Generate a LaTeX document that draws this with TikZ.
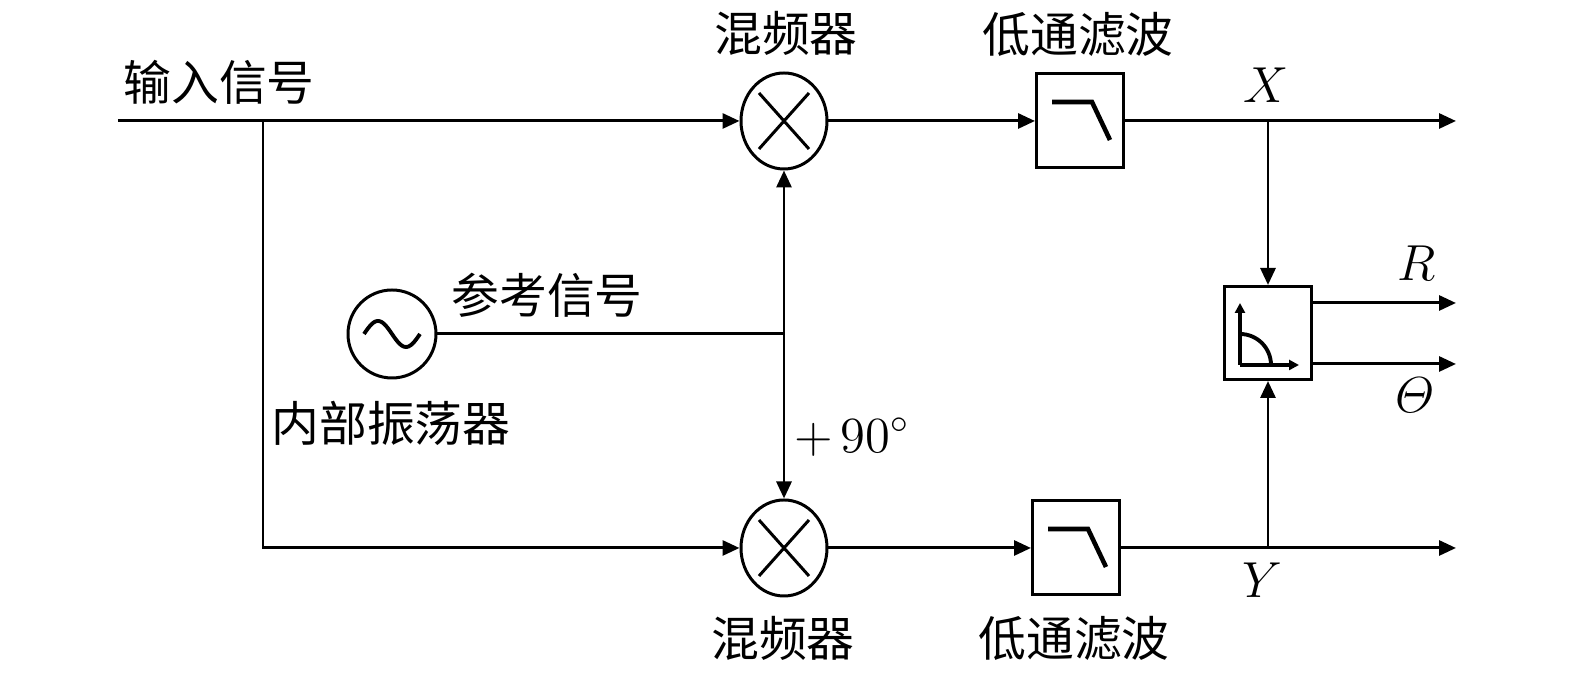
\documentclass[tikz,border=0pt]{standalone}
\usepackage{amsmath}
\usepackage{fontspec}
\newfontfamily\cjk{Noto Sans CJK SC}
\usetikzlibrary{arrows.meta,shapes.geometric}

\begin{document}
\begin{tikzpicture}[line width=0.85pt, >={Triangle[length=0.17cm,width=0.15cm]},
    font=\fontsize{13.6}{16}\selectfont,
    mixer/.style={draw, ellipse, minimum width=0.86cm, minimum height=0.96cm, inner sep=0pt},
    lpfbox/.style={draw, rectangle, minimum width=0.87cm, minimum height=0.94cm, inner sep=0pt},
    cjktext/.style={inner sep=0pt, font=\fontsize{13.6}{16}\selectfont\cjk}]
    \useasboundingbox (0,0) rectangle (15.75,6.79);
    % blocks
    \node[mixer] (mixA) at (7.84,5.58) {};
    \node[mixer] (mixB) at (7.84,1.31) {};
    \node[lpfbox] (lpfA) at (10.80,5.58) {};
    \node[lpfbox] (lpfB) at (10.76,1.31) {};
    \node[lpfbox, minimum height=0.93cm] (polar) at (12.68,3.46) {};
    \node[draw, circle, minimum size=0.88cm, inner sep=0pt] (osc) at (3.92,3.45) {};
    % symbols inside the blocks
    \draw (mixA.center) +(-0.25,-0.28) -- +(0.25,0.28);
    \draw (mixA.center) +(-0.25,0.28) -- +(0.25,-0.28);
    \draw (mixB.center) +(-0.25,-0.28) -- +(0.25,0.28);
    \draw (mixB.center) +(-0.25,0.28) -- +(0.25,-0.28);
    \draw[line width=1.3pt] (lpfA.center) +(-0.28,0.19) -- +(0.12,0.19) -- +(0.30,-0.19);
    \draw[line width=1.3pt] (lpfB.center) +(-0.28,0.19) -- +(0.12,0.19) -- +(0.30,-0.19);
    \draw[line width=1.1pt, shift={(osc.center)}] plot[domain=-0.28:0.28, samples=40, smooth] (\x,{-0.13*sin(\x/0.28*180)});
    \draw[line width=1.1pt, ->, >={Triangle[length=0.1cm,width=0.1cm]}] (polar.center) +(-0.28,-0.32) -- +(-0.28,0.3);
    \draw[line width=1.1pt, ->, >={Triangle[length=0.1cm,width=0.1cm]}] (polar.center) +(-0.28,-0.32) -- +(0.31,-0.32);
    \draw[line width=1.1pt] (polar.center) +(-0.28,-0.01) arc (90:0:0.31);
    % junctions and free ends
    \coordinate (in) at (1.18,5.58);
    \coordinate (split) at (2.63,5.58);
    \coordinate (corner) at (2.63,1.31);
    \coordinate (ref) at (7.84,3.45);
    \coordinate (xsplit) at (12.68,5.58);
    \coordinate (ysplit) at (12.68,1.31);
    \coordinate (xout) at (14.56,5.58);
    \coordinate (yout) at (14.56,1.31);
    \coordinate (rout) at (14.56,3.76);
    \coordinate (tout) at (14.56,3.15);
    % connectors
    \draw[->] (in) -- (mixA);
    \draw[->] (split) -- (corner) -- (mixB);
    \draw[->] (mixA) -- (lpfA);
    \draw[->] (mixB) -- (lpfB);
    \draw[->] (lpfA) -- (xout);
    \draw[->] (lpfB) -- (yout);
    \draw[->] (xsplit) -- (polar);
    \draw[->] (ysplit) -- (polar);
    \draw[->] (polar.east |- rout) -- (rout);
    \draw[->] (polar.east |- tout) -- (tout);
    \draw (osc) -- (ref);
    \draw[->] (ref) -- (mixA);
    \draw[->] (ref) -- (mixB);
    % labels
    \node[cjktext] (inlabel) at (2.19,5.97) {输入信号};
    \node[cjktext] (mixAlabel) at (7.86,6.46) {混频器};
    \node[cjktext] (mixBlabel) at (7.83,0.41) {混频器};
    \node[cjktext] (lpfAlabel) at (10.78,6.45) {低通滤波};
    \node[cjktext] (lpfBlabel) at (10.74,0.41) {低通滤波};
    \node[cjktext] (reflabel) at (5.47,3.84) {参考信号};
    \node[cjktext] (osclabel) at (3.91,2.56) {内部振荡器};
    \node[inner sep=0pt] (shift) at (8.52,2.42) {$+\,90^\circ$};
    \node[inner sep=0pt] (xlabel) at (12.66,5.94) {$X$};
    \node[inner sep=0pt] (ylabel) at (12.62,0.99) {$Y$};
    \node[inner sep=0pt] (rlabel) at (14.17,4.16) {$R$};
    \node[inner sep=0pt] (tlabel) at (14.15,2.84) {$\varTheta$};
\end{tikzpicture}
\end{document}
